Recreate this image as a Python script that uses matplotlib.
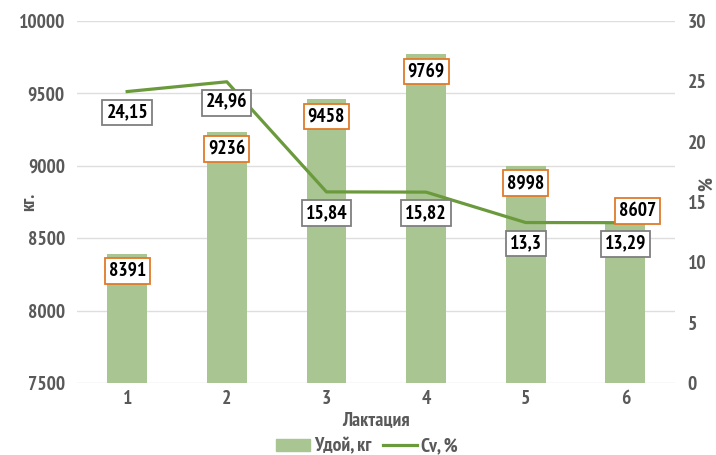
import numpy as np
import matplotlib.pyplot as plt

# Yield and coefficient of variation by lactation
lactations = [1, 2, 3, 4, 5, 6]
milk_yield = [8391, 9236, 9458, 9769, 8998, 8607]
cv_percent = [24.15, 24.96, 15.84, 15.82, 13.3, 13.29]

plt.rcParams['font.family'] = ['PT Sans Narrow', 'DejaVu Sans']
plt.rcParams['font.weight'] = 'bold'

BAR = '#a9c592'
LINE = '#6b9a3d'
GRAY = '#595959'
FS = 14

fig, ax = plt.subplots(figsize=(7.16, 4.55), dpi=100)
fig.subplots_adjust(left=0.108, right=0.943, top=0.954, bottom=0.158)
ax2 = ax.twinx()

x = np.array(lactations)
ax.bar(x, milk_yield, width=0.4, color=BAR, zorder=2)
ax.set_ylim(7500, 10000)
ax.set_yticks(np.arange(7500, 10001, 500))
ax.set_xlim(0.5, 6.5)
ax.set_xticks(x)
ax.grid(axis='y', color='#dedede', linewidth=1, zorder=0)
ax.set_axisbelow(True)

ax2.plot(x, cv_percent, color=LINE, linewidth=2.3, zorder=3)
ax2.set_ylim(0, 30)
ax2.set_yticks(np.arange(0, 31, 5))

for a in (ax, ax2):
    for s in a.spines.values():
        s.set_visible(False)
    a.tick_params(length=0, labelsize=FS, labelcolor=GRAY, pad=9)
ax.tick_params(axis='x', pad=5)

ax.set_xlabel('Лактация', fontsize=FS, color=GRAY, fontweight='bold', labelpad=2)
ax.set_ylabel('кг.', fontsize=FS, color=GRAY, fontweight='bold')
ax.yaxis.set_label_coords(-0.065, 0.5)
ax2.set_ylabel('%', fontsize=FS, color=GRAY, fontweight='bold', rotation=90)
ax2.yaxis.set_label_coords(1.038, 0.55)

# value labels on bars (last one sits above the bar, shifted right)
bar_offsets = [(0, -17)] * 5 + [(12, 12)]
for xi, v, off in zip(x, milk_yield, bar_offsets):
    ax2.annotate(str(v), (xi, v), xycoords=ax.transData, xytext=off, textcoords='offset pixels',
                 ha='center', va='center', fontsize=FS, color='black', fontweight='bold', zorder=5,
                 bbox=dict(boxstyle='square,pad=0.2', fc='white', ec='#e07b2a', lw=1.3))

# value labels under line points
for xi, v in zip(x, cv_percent):
    ax2.annotate(f'{v:g}'.replace('.', ','), (xi, v), xytext=(0, -21), textcoords='offset pixels',
                 ha='center', va='center', fontsize=FS, color='black', fontweight='bold', zorder=5,
                 bbox=dict(boxstyle='square,pad=0.2', fc='white', ec='#7f7f7f', lw=1.3))

handles = [plt.Rectangle((0, 0), 1, 1, color=BAR),
           plt.Line2D([0], [0], color=LINE, linewidth=2.3)]
fig.legend(handles, ['Удой, кг', 'Cv, %'], loc='lower center', bbox_to_anchor=(0.513, -0.04),
           ncol=2, frameon=False, handlelength=1.7, columnspacing=0.6, handleheight=0.6,
           handletextpad=0.25, labelcolor=GRAY, prop={'weight': 'bold', 'size': FS})

fig.savefig('out.png', dpi=100)
